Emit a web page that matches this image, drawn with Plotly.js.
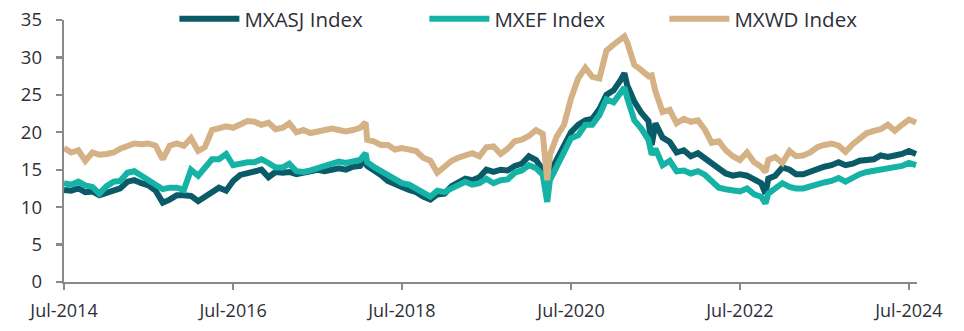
<!DOCTYPE html>
<html>
<head>
<meta charset="utf-8">
<script src="https://cdn.plot.ly/plotly-3.0.1.min.js"></script>
<style>
html,body{margin:0;padding:0;background:#fff;}
#chart{width:964px;height:331px;}
</style>
</head>
<body>
<div id="chart"></div>
<script>
var seriesNames = ["MXASJ Index", "MXEF Index", "MXWD Index"];
var seriesColors = ["#0b5a67", "#14b3a6", "#d5b186"];

var dates = [
"2014-07-01","2014-08-01","2014-09-01","2014-10-01","2014-11-01","2014-12-01",
"2015-01-01","2015-02-01","2015-03-01","2015-04-01","2015-05-01","2015-06-01","2015-07-01","2015-08-01","2015-09-01","2015-10-01","2015-11-01","2015-12-01",
"2016-01-01","2016-02-01","2016-03-01","2016-04-01","2016-05-01","2016-06-01","2016-07-01","2016-08-01","2016-09-01","2016-10-01","2016-11-01","2016-12-01",
"2017-01-01","2017-02-01","2017-03-01","2017-04-01","2017-05-01","2017-06-01","2017-07-01","2017-08-01","2017-09-01","2017-10-01","2017-11-01","2017-12-01",
"2018-01-01","2018-01-25","2018-02-01","2018-03-01","2018-04-01","2018-05-01","2018-06-01","2018-07-01","2018-08-01","2018-09-01","2018-10-01","2018-11-01","2018-12-01",
"2019-01-01","2019-02-01","2019-03-01","2019-04-01","2019-05-01","2019-06-01","2019-07-01","2019-08-01","2019-09-01","2019-10-01","2019-11-01","2019-12-01",
"2020-01-01","2020-02-01","2020-03-01","2020-03-20","2020-04-01","2020-05-01","2020-06-01","2020-07-01","2020-08-01","2020-09-01","2020-10-01","2020-11-01","2020-12-01",
"2021-01-01","2021-02-01","2021-02-17","2021-03-01","2021-04-01","2021-05-01","2021-06-01","2021-06-15","2021-07-01","2021-08-01","2021-09-01","2021-10-01","2021-11-01","2021-12-01",
"2022-01-01","2022-02-01","2022-03-01","2022-04-01","2022-05-01","2022-06-01","2022-07-01","2022-08-01","2022-09-01","2022-10-01","2022-10-20","2022-11-01","2022-12-01",
"2023-01-01","2023-02-01","2023-03-01","2023-04-01","2023-05-01","2023-06-01","2023-07-01","2023-08-01","2023-09-01","2023-10-01","2023-11-01","2023-12-01",
"2024-01-01","2024-02-01","2024-03-01","2024-04-01","2024-05-01","2024-06-01","2024-07-01","2024-08-01"
];

var mxasj = [
12.3,12.2,12.5,12.0,12.1,11.6,
11.9,12.3,12.5,13.4,13.6,13.2,12.9,12.2,10.6,11.0,11.6,11.6,
11.5,10.8,11.4,12.0,12.6,12.2,13.5,14.3,14.5,14.7,15.0,14.0,
14.7,14.6,14.7,14.4,14.6,14.8,15.0,14.8,15.0,15.2,15.0,15.4,
15.5,16.5,15.5,15.0,14.3,13.5,13.0,12.7,12.3,12.0,11.4,11.0,11.7,
11.8,12.8,13.2,13.8,13.6,14.0,15.0,14.7,15.0,14.9,15.5,15.8,
16.8,16.3,15.0,13.4,14.6,16.4,18.2,20.0,21.0,21.6,21.8,23.1,25.0,
25.6,27.0,27.9,26.3,24.1,22.6,21.5,18.3,21.2,19.3,18.7,17.3,17.6,16.8,
17.2,16.5,15.9,15.0,14.5,14.2,14.4,14.2,13.6,13.2,11.8,13.8,14.2,
15.3,15.0,14.4,14.4,14.8,15.2,15.4,15.6,16.0,15.6,15.8,16.2,
16.3,16.4,16.9,16.7,16.9,17.1,17.5,17.1
];

var mxef = [
13.2,13.0,13.4,12.9,12.7,11.8,
12.8,13.4,13.5,14.6,14.8,14.2,13.7,13.1,12.4,12.6,12.6,12.3,
15.0,14.2,15.3,16.4,16.4,17.1,15.6,15.9,16.0,16.0,16.4,15.9,
15.3,15.3,15.8,14.8,14.7,14.9,15.2,15.5,15.8,16.1,15.9,16.0,
16.3,17.2,16.0,15.4,14.8,14.2,13.8,13.2,13.0,12.5,12.0,11.4,12.2,
12.0,12.5,12.9,13.4,13.0,13.2,13.8,13.2,13.6,13.7,14.6,14.9,
15.6,15.2,14.3,10.7,13.6,15.5,17.2,19.2,19.6,21.0,21.0,22.3,24.4,
24.0,25.3,26.0,24.6,21.6,20.5,19.0,17.0,17.8,15.6,16.2,14.8,14.9,14.5,
14.8,14.3,13.5,12.6,12.4,12.2,12.1,12.5,11.7,11.4,10.5,11.8,12.6,
13.2,12.7,12.5,12.5,12.8,13.1,13.3,13.5,13.9,13.4,14.0,14.4,
14.7,14.9,15.0,15.2,15.4,15.5,15.9,15.6
];

var mxwd = [
17.9,17.3,17.6,16.2,17.3,17.0,
17.1,17.3,17.8,18.1,18.5,18.4,18.5,18.2,16.4,18.2,18.5,18.2,
19.2,17.5,18.0,20.3,20.5,20.8,20.6,21.0,21.5,21.4,21.0,21.3,
20.4,20.6,21.2,20.0,20.3,19.9,20.1,20.2,20.5,20.3,20.1,20.3,
20.6,21.3,19.0,18.8,18.3,18.3,17.7,17.9,17.6,17.5,16.6,16.2,14.6,
15.5,16.2,16.6,17.0,17.2,16.8,18.0,18.1,17.1,17.8,18.8,19.0,
19.5,20.3,19.8,13.6,17.0,19.5,21.0,24.5,27.2,28.6,27.4,27.2,30.9,
31.7,32.3,32.8,32.0,29.0,28.3,27.5,27.6,25.5,22.7,23.0,21.2,21.8,21.4,
21.6,20.3,18.6,18.8,17.6,16.8,16.3,17.3,16.0,15.4,14.7,16.3,16.7,
15.9,17.5,16.8,16.9,17.3,18.0,18.3,18.5,18.2,17.4,18.4,19.2,
19.9,20.2,20.4,21.0,20.2,21.0,21.7,21.3
];

var yTicks = [0, 5, 10, 15, 20, 25, 30, 35];
var xTicks = ["2014-07-01","2016-07-01","2018-07-01","2020-07-01","2022-07-01","2024-07-01"];
var xTickLabels = ["Jul-2014","Jul-2016","Jul-2018","Jul-2020","Jul-2022","Jul-2024"];

var legendWidths = [175, 165, 130];

var allValues = [mxasj, mxef, mxwd];
var traces = allValues.map(function (vals, i) {
  return {
    type: "scatter",
    mode: "lines",
    name: seriesNames[i],
    x: dates,
    y: vals,
    line: {color: seriesColors[i], width: 6},
    legendwidth: legendWidths[i],
    hoverinfo: "skip"
  };
});

var fontFam = "'Open Sans', 'Noto Sans', sans-serif";
var textColor = "#2e2e38";
var layout = {
  width: 964,
  height: 331,
  margin: {l: 64, r: 47, t: 20, b: 49, pad: 0, autoexpand: false},
  paper_bgcolor: "#ffffff",
  plot_bgcolor: "#ffffff",
  font: {family: fontFam, color: textColor},
  showlegend: true,
  legend: {
    orientation: "h",
    xref: "paper", yref: "paper",
    x: 0.1294, y: 1.004, xanchor: "left", yanchor: "middle",
    font: {size: 20.5, color: textColor},
    itemwidth: 60,
    bgcolor: "rgba(0,0,0,0)"
  },
  xaxis: {
    type: "date",
    range: ["2014-07-01", "2024-08-05"],
    tickmode: "array",
    tickvals: xTicks,
    ticktext: xTickLabels,
    showgrid: false,
    zeroline: false,
    showline: true,
    linecolor: "#8a8a8a",
    linewidth: 2.3,
    ticks: "outside",
    ticklen: 6,
    tickwidth: 2.3,
    tickcolor: "#8a8a8a",
    tickfont: {size: 18, color: textColor},
    ticklabelstandoff: 5,
    automargin: false,
    fixedrange: true
  },
  yaxis: {
    range: [0, 35],
    tickmode: "array",
    tickvals: yTicks,
    showgrid: false,
    zeroline: false,
    showline: true,
    linecolor: "#8a8a8a",
    linewidth: 2.3,
    ticks: "outside",
    ticklen: 6,
    tickwidth: 2.3,
    tickcolor: "#8a8a8a",
    tickfont: {size: 18.5, color: textColor},
    ticklabelstandoff: 10,
    automargin: false,
    fixedrange: true
  }
};

Plotly.newPlot("chart", traces, layout, {staticPlot: true, displayModeBar: false});
</script>
</body>
</html>
